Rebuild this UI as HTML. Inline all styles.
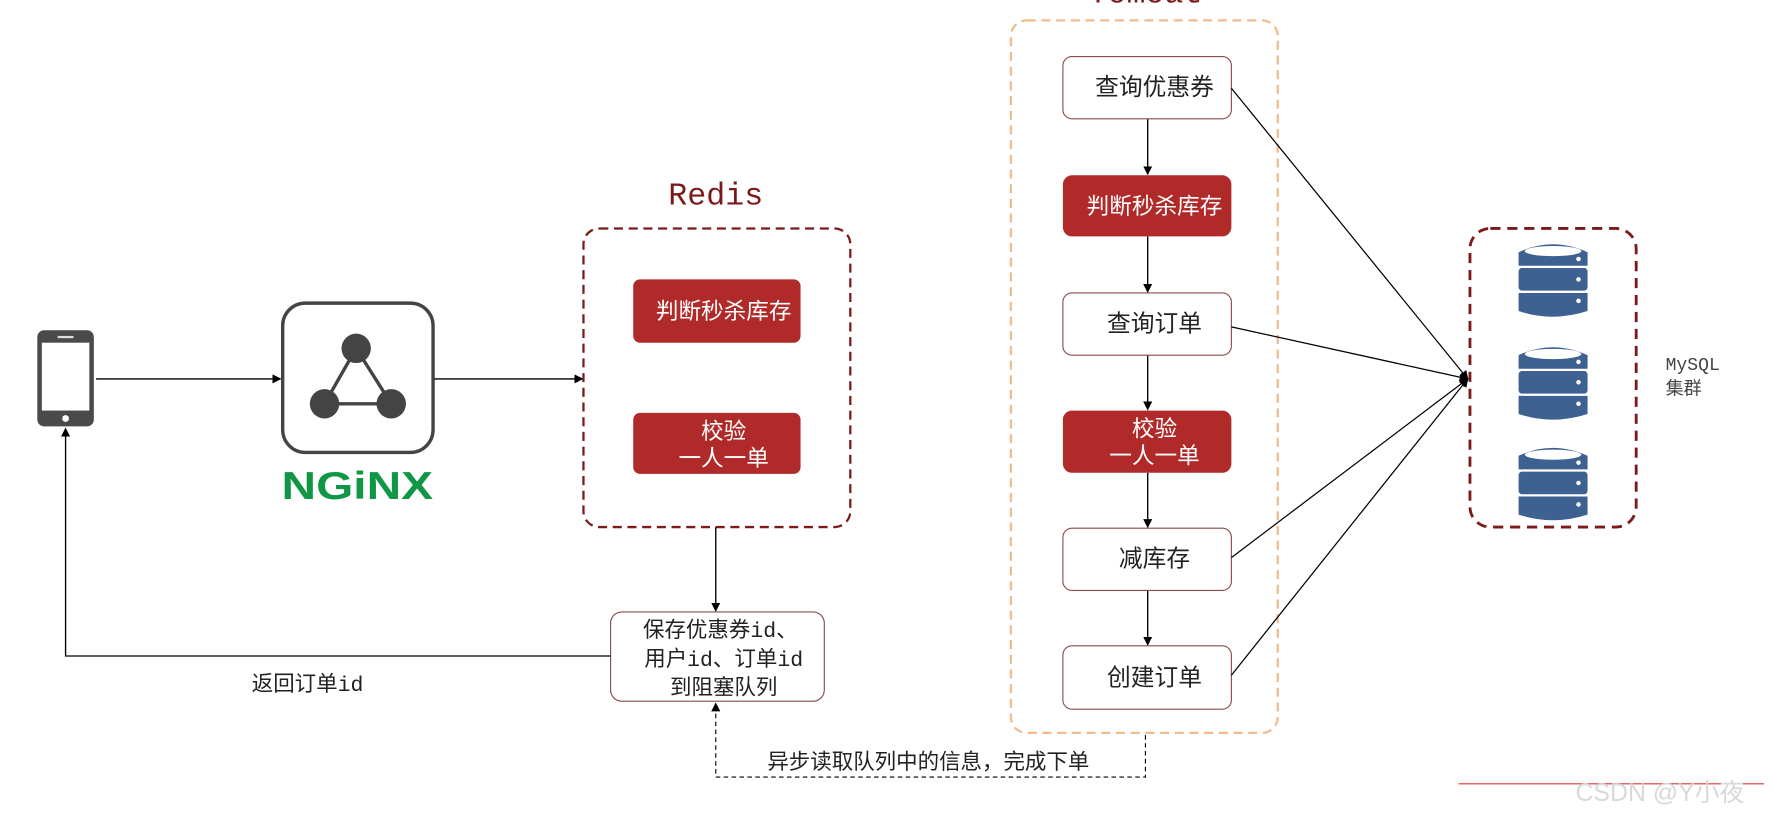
<!DOCTYPE html>
<html><head><meta charset="utf-8"><style>
html,body{margin:0;padding:0;background:#fff;}
svg{display:block;}
text{font-family:"Liberation Sans","Noto Sans CJK SC",sans-serif;}
.m{font-family:"Liberation Mono","Noto Sans CJK SC",monospace;}
</style></head><body>
<svg width="1773" height="820" viewBox="0 0 1568 725" preserveAspectRatio="none" xmlns="http://www.w3.org/2000/svg">
<defs>
<marker id="a" markerWidth="8" markerHeight="8" refX="7" refY="4" orient="auto" markerUnits="userSpaceOnUse"><path d="M0,0 L8,4 L0,8 Z" fill="#000"/></marker>
<g id="cyl">
<path d="M0,10 Q30,-4 61,10 L61,22 L0,22 Z" fill="#3d6190"/>
<ellipse cx="30.5" cy="9" rx="25" ry="4.5" fill="#fff"/>
<rect x="0" y="24" width="61" height="20" rx="3" fill="#3d6190"/>
<path d="M0,46 L61,46 L61,62 Q30,72 0,62 Z" fill="#3d6190"/>
<circle cx="53" cy="16" r="2" fill="#fff"/><circle cx="53" cy="34" r="2" fill="#fff"/><circle cx="53" cy="53" r="2" fill="#fff"/>
</g>
</defs>
<!-- phone -->
<rect x="33" y="292" width="50" height="85" rx="6" fill="#4a4a4a"/>
<rect x="37" y="303" width="42" height="60" fill="#fff"/>
<rect x="51" y="297" width="14" height="2" fill="#ddd"/>
<circle cx="58" cy="370" r="3" fill="#fff"/>
<line x1="85" y1="335" x2="248" y2="335" stroke="#000" stroke-width="1.2" marker-end="url(#a)"/>
<!-- nginx -->
<rect x="250" y="268" width="133" height="132" rx="20" fill="#fff" stroke="#444" stroke-width="3"/>
<path d="M315,308 L287,357 L346,357 Z" fill="none" stroke="#444" stroke-width="3"/>
<circle cx="315" cy="308" r="13" fill="#444"/><circle cx="287" cy="357" r="13" fill="#444"/><circle cx="346" cy="357" r="13" fill="#444"/>
<text x="316" y="441" text-anchor="middle" font-size="34" font-weight="bold" fill="#109745" textLength="134" lengthAdjust="spacingAndGlyphs">NGiNX</text>
<line x1="384" y1="335" x2="515" y2="335" stroke="#000" stroke-width="1.2" marker-end="url(#a)"/>
<!-- redis -->
<text x="633" y="181" text-anchor="middle" font-size="28" fill="#7a1a1a" class="m">Redis</text>
<rect x="516" y="202" width="236" height="264" rx="14" fill="none" stroke="#7a1a1a" stroke-width="2" stroke-dasharray="8,5"/>
<rect x="560" y="247" width="148" height="56" rx="6" fill="#b02a2a"/>
<text x="640" y="282" text-anchor="middle" font-size="20" fill="#fff">判断秒杀库存</text>
<rect x="560" y="365" width="148" height="54" rx="6" fill="#b02a2a"/>
<text x="640" y="388" text-anchor="middle" font-size="20" fill="#fff">校验</text>
<text x="640" y="412" text-anchor="middle" font-size="20" fill="#fff">一人一单</text>
<line x1="633" y1="466" x2="633" y2="540" stroke="#000" stroke-width="1.2" marker-end="url(#a)"/>
<!-- queue -->
<rect x="540" y="541" width="189" height="79" rx="10" fill="#fff" stroke="#8a4a4a" stroke-width="1"/>
<text x="637" y="563" text-anchor="middle" font-size="19" fill="#222" class="m">保存优惠券id、</text>
<text x="640" y="589" text-anchor="middle" font-size="19" fill="#222" class="m">用户id、订单id</text>
<text x="640" y="614" text-anchor="middle" font-size="19" fill="#222">到阻塞队列</text>
<polyline points="540,580 58,580 58,379" fill="none" stroke="#000" stroke-width="1.2" marker-end="url(#a)"/>
<text x="272" y="611" text-anchor="middle" font-size="19" fill="#222" class="m">返回订单id</text>
<polyline points="1013,650 1013,687 633,687 633,622" fill="none" stroke="#000" stroke-width="1" stroke-dasharray="4,3" marker-end="url(#a)"/>
<text x="821" y="680" text-anchor="middle" font-size="19" fill="#222">异步读取队列中的信息，完成下单</text>
<!-- tomcat -->
<text x="1013" y="2" text-anchor="middle" font-size="28" fill="#7a1a1a" class="m">Tomcat</text>
<rect x="894" y="18" width="236" height="630" rx="14" fill="none" stroke="#f0bb8d" stroke-width="2" stroke-dasharray="8,5"/>
<g stroke="#000" stroke-width="1.2" marker-end="url(#a)">
<line x1="1015" y1="105" x2="1015" y2="154"/><line x1="1015" y1="209" x2="1015" y2="258"/>
<line x1="1015" y1="314" x2="1015" y2="362"/><line x1="1015" y1="418" x2="1015" y2="466"/>
<line x1="1015" y1="522" x2="1015" y2="570"/>
</g>
<rect x="940" y="50" width="149" height="55" rx="8" fill="#fff" stroke="#8a4a4a"/>
<text x="1021" y="84" text-anchor="middle" font-size="21" fill="#222">查询优惠券</text>
<rect x="940" y="155" width="149" height="54" rx="8" fill="#b02a2a"/>
<text x="1021" y="189" text-anchor="middle" font-size="20" fill="#fff">判断秒杀库存</text>
<rect x="940" y="259" width="149" height="55" rx="8" fill="#fff" stroke="#8a4a4a"/>
<text x="1021" y="293" text-anchor="middle" font-size="21" fill="#222">查询订单</text>
<rect x="940" y="363" width="149" height="55" rx="8" fill="#b02a2a"/>
<text x="1021" y="386" text-anchor="middle" font-size="20" fill="#fff">校验</text>
<text x="1021" y="410" text-anchor="middle" font-size="20" fill="#fff">一人一单</text>
<rect x="940" y="467" width="149" height="55" rx="8" fill="#fff" stroke="#8a4a4a"/>
<text x="1021" y="501" text-anchor="middle" font-size="21" fill="#222">减库存</text>
<rect x="940" y="571" width="149" height="56" rx="8" fill="#fff" stroke="#8a4a4a"/>
<text x="1021" y="606" text-anchor="middle" font-size="21" fill="#222">创建订单</text>
<g stroke="#000" stroke-width="1.1" marker-end="url(#a)">
<line x1="1089" y1="78" x2="1298" y2="335"/><line x1="1089" y1="289" x2="1298" y2="335"/>
<line x1="1089" y1="493" x2="1298" y2="335"/><line x1="1089" y1="597" x2="1298" y2="335"/>
</g>
<!-- mysql -->
<rect x="1300" y="202" width="147" height="264" rx="18" fill="none" stroke="#7a1a1a" stroke-width="2.5" stroke-dasharray="9,6"/>
<use href="#cyl" x="1343" y="213"/><use href="#cyl" x="1343" y="304"/><use href="#cyl" x="1343" y="393"/>
<text x="1473" y="327" font-size="16" fill="#444" class="m">MySQL</text>
<text x="1473" y="349" font-size="16" fill="#444">集群</text>
<!-- watermark -->
<line x1="1290" y1="693" x2="1560" y2="693" stroke="#d33" stroke-width="1"/>
<text x="1468" y="708" text-anchor="middle" font-size="22" fill="#d8d8d8">CSDN @Y小夜</text>
</svg>
</body></html>
